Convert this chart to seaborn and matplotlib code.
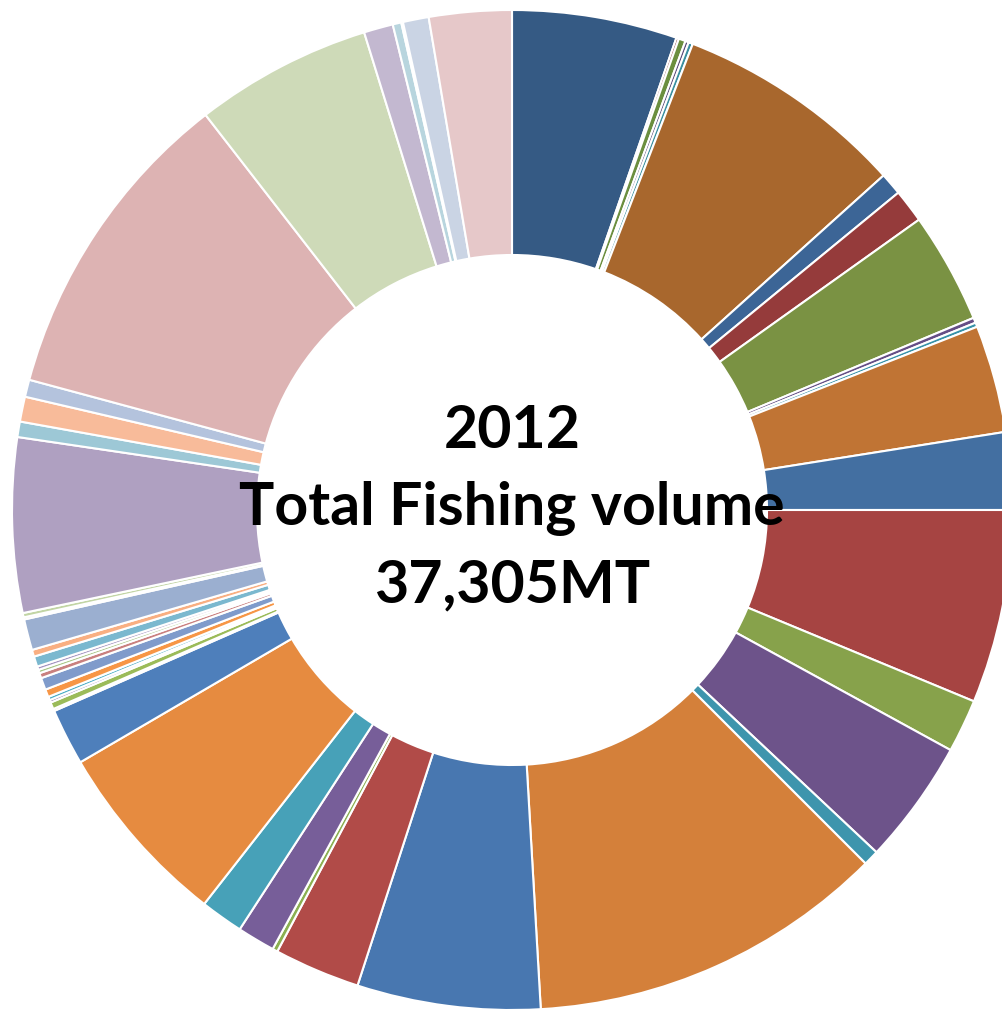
import matplotlib
matplotlib.use("Agg")
import matplotlib.pyplot as plt
import seaborn as sns

# Share of total volume per category (in degrees of the ring)
shares = [
    19.2, 0.3, 0.8, 0.4, 0.5, 26.8, 2.6, 3.9, 12.9, 0.6, 0.5, 12.5, 9.0,
    22.5, 6.2, 14.5, 1.8, 41.7, 21.3, 10.0, 0.6, 4.4, 5.0, 21.7, 6.6,
    0.25, 0.8, 0.3, 0.4, 0.9, 1.4, 0.6, 0.4, 0.4, 1.2, 0.8, 3.6, 0.25, 0.5,
    20.3, 1.8, 2.9, 2.0, 37.1, 20.6, 3.4, 1.0, 0.2, 3.0, 9.6,
]
colors = [
    "#355A84", "#8B3A3A", "#6B8E3F", "#5A4A7A", "#3A8FA0", "#A8672D", "#3C6596",
    "#953B3B", "#7A9243", "#654E86", "#3792A8", "#C07434", "#436FA1",
    "#A64442", "#87A24B", "#6D538A", "#3E95AD", "#D4803A", "#4877B0", "#B14B48",
    "#8BB051", "#775E99", "#47A1B8", "#E68B40", "#4E7FBB",
    "#D9928F", "#9BBB59", "#8064A2", "#4BACC6", "#F79646", "#7F9BCB", "#C9807F",
    "#A8C686", "#A393C0", "#7BB8CF", "#F9AF82", "#9BAFD0", "#E3A9A8", "#C2D5A5",
    "#AFA0C1", "#9DC8D6", "#F8BB9A", "#B4C3DD", "#DDB3B3", "#CEDAB8", "#C3B8D0",
    "#B8D5DE", "#F5D9C5", "#CAD4E4", "#E6C8C9",
]
center_lines = ["2012", "Total Fishing volume", "37,305MT"]

sns.set_theme(style="white")
plt.rcParams["font.family"] = ["Lato", "DejaVu Sans"]
palette = sns.color_palette(colors)

W, H = 1003, 1011
fig = plt.figure(figsize=(W / 100, H / 100), dpi=100)
cx, cy, R = 512, 510, 500
ax = fig.add_axes([(cx - R) / W, (H - cy - R) / H, 2 * R / W, 2 * R / H])
ax.pie(shares, colors=palette, startangle=90, counterclock=False, radius=1.0,
       wedgeprops=dict(width=0.49, edgecolor="white", linewidth=1.5))
ax.set_xlim(-1, 1)
ax.set_ylim(-1, 1)
ax.set_aspect("equal")
ax.axis("off")

ys = [431, 508, 585]
for t, y in zip(center_lines, ys):
    fig.text(cx / W, 1 - y / H, t, ha="center", va="center",
             fontsize=42.5, fontweight="bold", color="black")

fig.savefig("out.png", dpi=100, facecolor="white")
